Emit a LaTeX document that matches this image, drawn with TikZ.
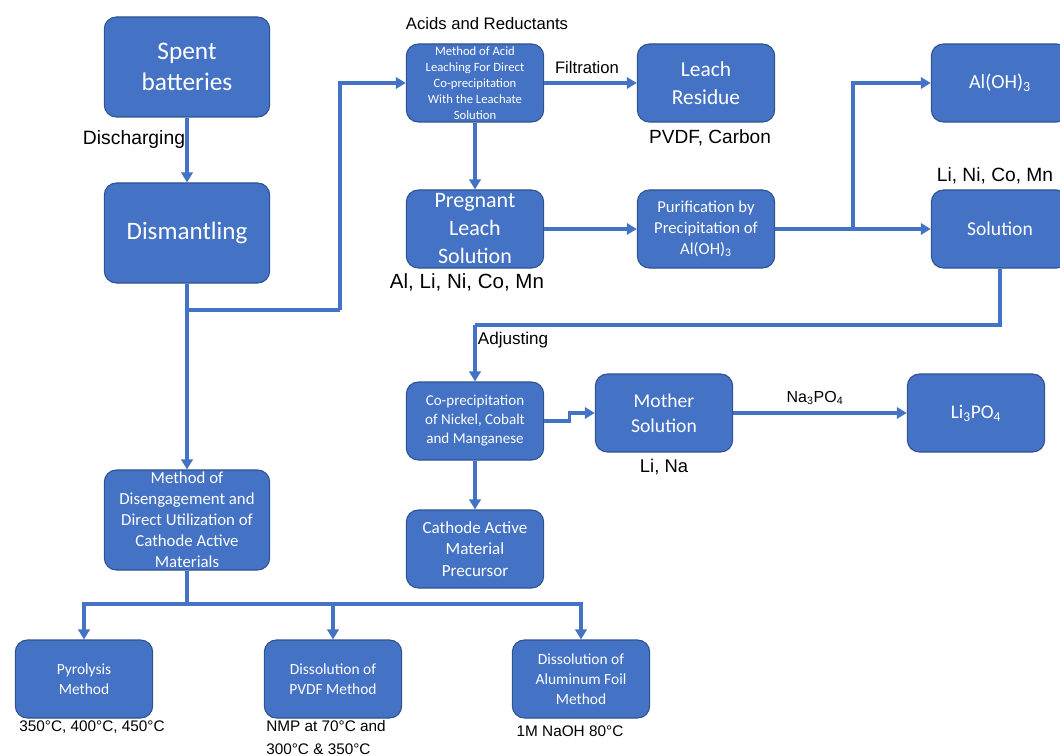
\documentclass[tikz,border=0pt]{standalone}
\usepackage{fontspec}
\setmainfont{Liberation Sans}
\newfontfamily\boxfont{Carlito}
\usetikzlibrary{arrows.meta}
\definecolor{boxblue}{HTML}{4472C4}
\definecolor{boxedge}{HTML}{2F528F}
\definecolor{linkblue}{HTML}{4472C4}
\newcommand{\fs}[2]{\fontsize{#1}{#2}\selectfont}

\begin{document}
\begin{tikzpicture}[x=0.75pt, y=-0.75pt,
    box/.style={draw=boxedge, line width=0.8pt, fill=boxblue, rounded corners=9pt, text=white, align=center, inner sep=0pt},
    smallbox/.style={box, minimum width=103pt, minimum height=58.5pt},
    bigbox/.style={box, minimum width=124pt, minimum height=75pt},
    link/.style={draw=linkblue, line width=2.3pt},
    flow/.style={link, -{Triangle[width=8.5pt,length=7.5pt]}},
    lab/.style={inner sep=0pt}]
    \clip (0,0) rectangle (1060,756);

    % left column
    \node[bigbox, font=\boxfont\fs{19}{23}] (spent) at (187,67) {Spent\\batteries};
    \node[bigbox, font=\boxfont\fs{18.8}{22}] (dism) at (187,233) {Dismantling};
    \node[bigbox, font=\boxfont\fs{12.6}{15.75}] (diseng) at (187,520) {Method of\\Disengagement and\\Direct Utilization of\\Cathode Active\\Materials};

    % leaching route
    \node[smallbox, font=\boxfont\fs{9.5}{12}] (acid) at (475,83) {Method of Acid\\Leaching For Direct\\Co-precipitation\\With the Leachate\\Solution};
    \node[smallbox, font=\boxfont\fs{16}{21}] (resid) at (706,83) {Leach\\Residue};
    \node[smallbox, font=\boxfont\fs{15}{18}] (aloh) at (1000,83) {Al(OH)\textsubscript{3}};
    \node[smallbox, font=\boxfont\fs{16.5}{21}] (preg) at (475,229) {Pregnant\\Leach\\Solution};
    \node[smallbox, font=\boxfont\fs{12.5}{15.7}] (purif) at (706,229) {Purification by\\Precipitation of\\Al(OH)\textsubscript{3}};
    \node[smallbox, font=\boxfont\fs{14.7}{18}] (soln) at (1000,229) {Solution};
    \node[smallbox, font=\boxfont\fs{11.3}{14.2}] (coprec) at (475,421) {Co-precipitation\\of Nickel, Cobalt\\and Manganese};
    \node[smallbox, font=\boxfont\fs{14.7}{19}] (mother) at (664,413) {Mother\\Solution};
    \node[smallbox, font=\boxfont\fs{14.5}{18}] (lipo) at (976,413) {Li\textsubscript{3}PO\textsubscript{4}};
    \node[smallbox, font=\boxfont\fs{12.8}{16}] (precur) at (475,549) {Cathode Active\\Material\\Precursor};

    % direct route
    \node[smallbox, font=\boxfont\fs{11.6}{15}] (pyro) at (84,679) {Pyrolysis\\Method};
    \node[smallbox, font=\boxfont\fs{11.6}{15}] (pvdf) at (333,679) {Dissolution of\\PVDF Method};
    \node[smallbox, font=\boxfont\fs{11.6}{15}] (alfoil) at (581,679) {Dissolution of\\Aluminum Foil\\Method};

    % labels
    \node[lab, font=\fs{14.5}{17}] (dischg) at (134,140) {Discharging};
    \node[lab, font=\fs{12.5}{15}] (acids) at (487,24) {Acids and Reductants};
    \node[lab, font=\fs{12.5}{15}] (filt) at (587,68) {Filtration};
    \node[lab, font=\fs{14.3}{17}] (pvdfc) at (710,138) {PVDF, Carbon};
    \node[lab, font=\fs{15.4}{18}] (alli) at (467,282) {Al, Li, Ni, Co, Mn};
    \node[lab, font=\fs{14.4}{17}] (lini) at (995,176) {Li, Ni, Co, Mn};
    \node[lab, font=\fs{12.8}{15}] (adj) at (513,340) {Adjusting};
    \node[lab, font=\fs{13.8}{16}] (lina) at (664,467) {Li, Na};
    \node[lab, font=\fs{12}{15}] (napo) at (815,398) {Na\textsubscript{3}PO\textsubscript{4}};
    \node[lab, font=\fs{11.5}{14}] (pyrot) at (92,727) {350°C, 400°C, 450°C};
    \node[lab, font=\fs{11.5}{17}, align=left, anchor=north west] (nmp) at (266,720) {NMP at 70°C and\\300°C \& 350°C};
    \node[lab, font=\fs{11.5}{14}] (naoh) at (570,731) {1M NaOH 80°C};

    % connectors
    \coordinate (brA) at (187,310);
    \coordinate (brB) at (340,310);
    \coordinate (brC) at (853,229);
    \coordinate (brD) at (475,325);
    \coordinate (brE) at (187,604);

    \draw[flow] (spent) -- (dism);
    \draw[flow] (dism) -- (diseng);
    \draw[link] (brA) -- (brB);
    \draw[flow] (brB) |- (acid);
    \draw[flow] (acid) -- (resid);
    \draw[flow] (acid) -- (preg);
    \draw[flow] (preg) -- (purif);
    \draw[flow] (purif) -- (soln);
    \draw[flow] (brC) |- (aloh);
    \draw[link] (soln) |- (brD);
    \draw[flow] (brD) -- (coprec);
    \draw[flow] (coprec.east) -- ++(25,0) |- (mother);
    \draw[flow] (mother) -- (lipo);
    \draw[flow] (coprec) -- (precur);
    \draw[link] (diseng) -- (brE);
    \foreach \b in {pyro,pvdf,alfoil}
        \draw[flow] (brE) -| (\b);
\end{tikzpicture}
\end{document}
